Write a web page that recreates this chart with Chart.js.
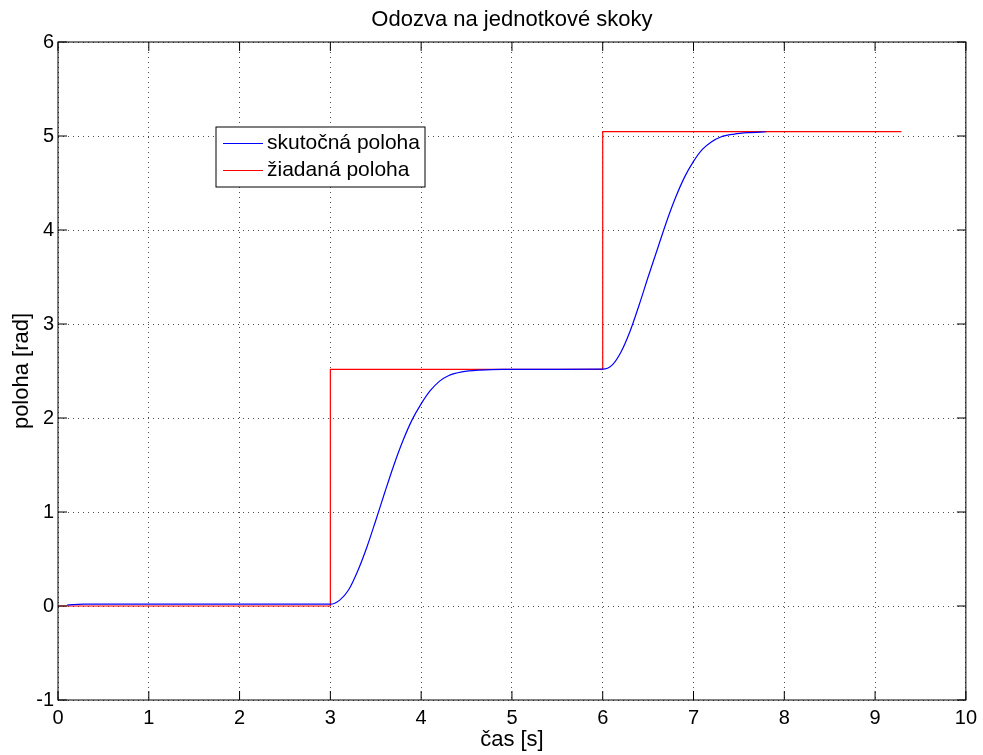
<!DOCTYPE html>
<html>
<head>
<meta charset="utf-8">
<title>Odozva na jednotkové skoky</title>
<script src="https://cdn.jsdelivr.net/npm/chart.js@4.4.0/dist/chart.umd.min.js"></script>
<style>
  html, body { margin: 0; padding: 0; background: #fff; }
  #wrap { width: 983px; height: 755px; }
</style>
</head>
<body>
<div id="wrap"><canvas id="response" width="983" height="755"></canvas></div>
<script>
const titleText = 'Odozva na jednotkové skoky';
const xLabel = 'čas [s]';
const yLabel = 'poloha [rad]';

const xTicks = [0, 1, 2, 3, 4, 5, 6, 7, 8, 9, 10];
const yTicks = [-1, 0, 1, 2, 3, 4, 5, 6];

// skutocna poloha (blue)
const actualLabel = 'skutočná poloha';
const actualTime = [
   0.1, 0.28, 3.0, 3.1, 3.2, 3.3, 3.4, 3.5, 3.6, 3.7, 3.8, 3.9, 4.0, 4.1, 4.2, 4.3, 4.45, 4.65, 4.9, 5.5, 6.0,
   6.1, 6.2, 6.3, 6.4, 6.5, 6.6, 6.7, 6.8, 6.9, 7.0, 7.1, 7.2, 7.3, 7.45, 7.6, 7.8,
];
const actualPos = [
   0.01, 0.02, 0.02, 0.06, 0.17, 0.37, 0.62, 0.91, 1.21, 1.5, 1.76, 1.98, 2.15, 2.29, 2.39, 2.45, 2.49, 2.51, 2.518, 2.518, 2.52,
   2.56, 2.7, 2.92, 3.2, 3.5, 3.79, 4.08, 4.34, 4.56, 4.73, 4.86, 4.94, 4.99, 5.02, 5.035, 5.045,
];

// ziadana poloha (red)
const desiredLabel = 'žiadaná poloha';
const desiredTime = [0, 3, 3, 6, 6, 9.29];
const desiredPos = [0, 0, 2.518, 2.518, 5.046, 5.046];

const BLUE = '#0000ff';
const RED = '#ff0000';
const FONT = "'Liberation Sans', Arial, sans-serif";
const tickLen = 9;

const toPoints = (xs, ys) => xs.map((x, i) => ({ x, y: ys[i] }));

const axesBox = {
   id: 'axesBox',
   afterDatasetsDraw(chart) {
      const { ctx, chartArea: a, scales } = chart;
      ctx.save();
      ctx.strokeStyle = '#000';
      ctx.lineWidth = 1;
      ctx.strokeRect(a.left, a.top, a.right - a.left, a.bottom - a.top);

      ctx.beginPath();
      xTicks.forEach((v) => {
         const px = scales.x.getPixelForValue(v);
         ctx.moveTo(px, a.bottom);
         ctx.lineTo(px, a.bottom - tickLen);
         ctx.moveTo(px, a.top);
         ctx.lineTo(px, a.top + tickLen);
      });
      yTicks.forEach((v) => {
         const py = scales.y.getPixelForValue(v);
         ctx.moveTo(a.left, py);
         ctx.lineTo(a.left + tickLen, py);
         ctx.moveTo(a.right, py);
         ctx.lineTo(a.right - tickLen, py);
      });
      ctx.stroke();

      // legend box
      const lx = a.left + 158;
      const ly = a.top + 85;
      ctx.fillStyle = '#fff';
      ctx.fillRect(lx, ly, 209, 60);
      ctx.strokeStyle = '#000';
      ctx.strokeRect(lx, ly, 209, 60);
      ctx.font = '21px ' + FONT;
      ctx.textBaseline = 'middle';
      const colors = [BLUE, RED];
      [actualLabel, desiredLabel].forEach((label, i) => {
         const ry = Math.round(ly + 16 + i * 26.5) + 0.5;
         ctx.beginPath();
         ctx.strokeStyle = colors[i];
         ctx.lineWidth = 1.2;
         ctx.moveTo(lx + 7, ry);
         ctx.lineTo(lx + 47, ry);
         ctx.stroke();
         ctx.fillStyle = '#000';
         ctx.fillText(label, lx + 51, ry);
      });
      ctx.restore();
   },
};

const ctx = document.getElementById('response');

const chart = new Chart(ctx, {
   type: 'line',
   data: {
      datasets: [
         {
            label: actualLabel,
            data: toPoints(actualTime, actualPos),
            borderColor: BLUE,
            borderWidth: 1.2,
            pointRadius: 0,
            cubicInterpolationMode: 'monotone',
         },
         {
            label: desiredLabel,
            data: toPoints(desiredTime, desiredPos),
            borderColor: RED,
            borderWidth: 1.2,
            pointRadius: 0,
            tension: 0,
         },
      ],
   },
   options: {
      responsive: false,
      animation: false,
      layout: { padding: { right: 17 } },
      plugins: {
         legend: { display: false },
         tooltip: { enabled: false },
         title: {
            display: true,
            text: titleText,
            fullSize: false,
            color: '#000',
            font: { family: FONT, size: 22, weight: 'normal' },
            padding: { top: 6.5, bottom: 9.1 },
         },
      },
      scales: {
         x: {
            type: 'linear',
            min: xTicks[0],
            max: xTicks[xTicks.length - 1],
            afterBuildTicks: (s) => { s.ticks = xTicks.map((v) => ({ value: v })); },
            afterFit: (s) => { s.height = 55; },
            grid: { color: 'rgba(0,0,0,0.7)', drawTicks: false },
            border: { display: false, dash: [1, 4] },
            ticks: { color: '#000', padding: 6, maxRotation: 0, font: { family: FONT, size: 20 } },
            title: {
               display: true,
               text: xLabel,
               color: '#000',
               font: { family: FONT, size: 22 },
               padding: { top: 2, bottom: 2 },
            },
         },
         y: {
            type: 'linear',
            min: yTicks[0],
            max: yTicks[yTicks.length - 1],
            afterBuildTicks: (s) => { s.ticks = yTicks.map((v) => ({ value: v })); },
            afterFit: (s) => { s.width = 58; },
            grid: { color: 'rgba(0,0,0,0.7)', drawTicks: false },
            border: { display: false, dash: [1, 4] },
            ticks: { color: '#000', padding: 4, font: { family: FONT, size: 20 } },
            title: {
               display: true,
               text: yLabel,
               color: '#000',
               font: { family: FONT, size: 22 },
               padding: { top: 8.8, bottom: 8.8 },
            },
         },
      },
   },
   plugins: [axesBox],
});
</script>
</body>
</html>
